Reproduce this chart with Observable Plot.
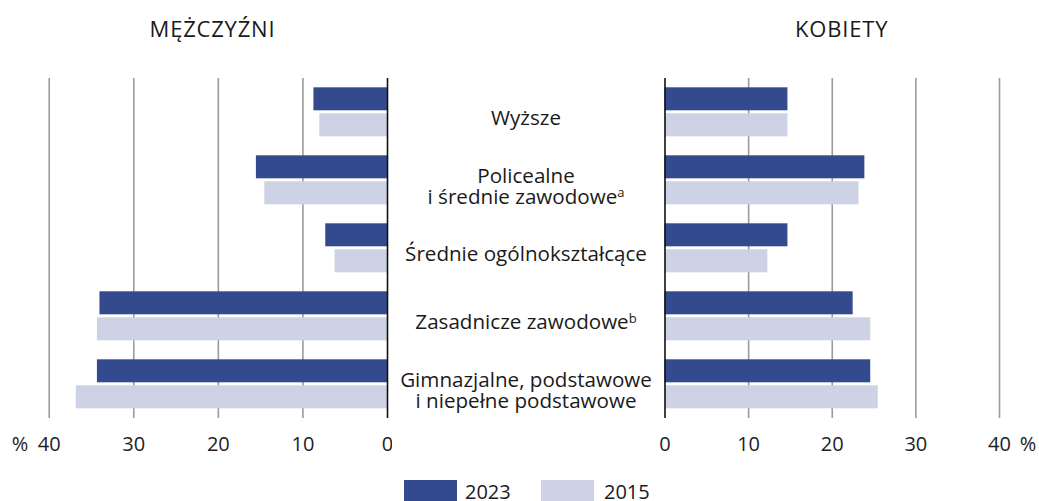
<!DOCTYPE html>
<html><head><meta charset="utf-8">
<script src="https://cdn.jsdelivr.net/npm/d3@7"></script>
<script src="https://cdn.jsdelivr.net/npm/@observablehq/plot@0.6"></script>
<style>
body{margin:0;background:#fff;font-family:"Open Sans",sans-serif;color:#1a1a1a}
#wrap{position:relative;width:1039px;height:501px;overflow:hidden;background:#fff}
#wrap svg{position:absolute;top:0}
.t{position:absolute;font-size:20px;line-height:20px;white-space:nowrap;transform:translateX(-50%)}
.tt{position:absolute;font-size:22px;line-height:22px;letter-spacing:0.8px;white-space:nowrap;transform:translateX(-50%)}
.sw{position:absolute;height:26px;width:53px}
.lt{position:absolute;font-size:20px;line-height:16px}
</style></head><body><div id="wrap"></div>
<script>
const categories = ["Wyższe","Policealne i średnie zawodowe","Średnie ogólnokształcące","Zasadnicze zawodowe","Gimnazjalne, podstawowe i niepełne podstawowe"];
const labels = ["Wyższe","Policealne\ni średnie zawodowe","Średnie ogólnokształcące","Zasadnicze zawodowe","Gimnazjalne, podstawowe\ni niepełne podstawowe"];
const notes = ["","a","","b",""];
const years = ["2023","2015"];
const men2023 = [8.7,15.5,7.3,34.0,34.3];
const men2015 = [8.0,14.5,6.2,34.3,36.8];
const women2023 = [14.7,23.9,14.7,22.5,24.6];
const women2015 = [14.7,23.2,12.3,24.6,25.5];
const tickValues = [0,10,20,30,40];
const gridValues = [10,20,30,40];
const panelTitles = ["MĘŻCZYŹNI","KOBIETY"];
const colors = ["#344a8f","#cdd2e4"];

const rowsOf = (a, b) => categories.flatMap((c, i) => [
  {category: c, year: years[0], value: a[i]},
  {category: c, year: years[1], value: b[i]}
]);
const menRows = rowsOf(men2023, men2015);
const womenRows = rowsOf(women2023, women2015);

const H = 470, TOP = 76.7, BOT = 418.3;
const FONT = '"Open Sans", sans-serif';
const wrap = document.getElementById("wrap");

function panel(rows, {width, marginLeft, marginRight, reverse}) {
  return Plot.plot({
    width, height: H,
    marginTop: TOP, marginBottom: H - BOT, marginLeft, marginRight,
    style: {background: "transparent", fontSize: "20px", fontFamily: FONT, color: "#222"},
    fy: {domain: categories, padding: 0, axis: null},
    y: {domain: years, paddingInner: 0.13, paddingOuter: 0.333, axis: null},
    x: {domain: [0, 40], reverse, axis: null},
    color: {domain: years, range: colors},
    marks: [
      Plot.ruleX(gridValues, {stroke: "#9b9b9b", strokeWidth: 1.6}),
      Plot.barX(rows, {fy: "category", y: "year", x: "value", fill: "year"}),
      Plot.ruleX([0], {stroke: "#111", strokeWidth: 1.6}),
      Plot.axisX(tickValues, {anchor: "bottom", tickSize: 0, tickPadding: 18, label: null, tickFormat: d => String(d), fill: "#222"})
    ]
  });
}

const left = panel(menRows, {width: 392, marginLeft: 48.7, marginRight: 5, reverse: true});
left.style.left = "0px";
wrap.appendChild(left);

const right = panel(womenRows, {width: 380, marginLeft: 5.5, marginRight: 40, reverse: false});
right.style.left = "659px";
wrap.appendChild(right);

const labelRows = categories.map((c, i) => ({category: c, label: labels[i], note: notes[i]}));
const mid = Plot.plot({
  width: 267, height: H,
  marginTop: TOP, marginBottom: H - BOT, marginLeft: 0, marginRight: 0,
  style: {background: "transparent", fontSize: "20.6px", fontFamily: FONT, color: "#1a1a1a"},
  fy: {domain: categories, padding: 0, axis: null},
  marks: [
    Plot.text(labelRows, {fy: "category", text: "label", frameAnchor: "middle", lineHeight: 0.98, dy: 6.5, fill: "#1a1a1a"})
  ]
});
mid.style.left = "392px";
wrap.appendChild(mid);

// superscript notes
mid.querySelectorAll("text").forEach(t => {
  const txt = t.textContent;
  const row = labelRows.find(r => r.label.replace("\n", "") === txt);
  if (row && row.note) {
    const ts = document.createElementNS("http://www.w3.org/2000/svg", "tspan");
    ts.setAttribute("dy", "-0.5em");
    ts.setAttribute("font-size", "13");
    ts.textContent = row.note;
    t.appendChild(ts);
  }
});

// titles
const titlePos = [[212.5, 17.2], [841.7, 17.2]];
panelTitles.forEach((s, i) => {
  const d = document.createElement("div");
  d.className = "tt";
  d.textContent = s;
  d.style.left = titlePos[i][0] + "px";
  d.style.top = titlePos[i][1] + "px";
  wrap.appendChild(d);
});
// percent signs
[[20, 434], [1028, 434]].forEach(p => {
  const d = document.createElement("div");
  d.className = "t";
  d.style.color = "#222";
  d.textContent = "%";
  d.style.left = p[0] + "px";
  d.style.top = p[1] + "px";
  wrap.appendChild(d);
});
// legend
const legPos = [[404, 465], [541, 604]];
years.forEach((y, i) => {
  const s = document.createElement("div");
  s.className = "sw";
  s.style.left = legPos[i][0] + "px";
  s.style.top = "480px";
  s.style.background = colors[i];
  wrap.appendChild(s);
  const l = document.createElement("div");
  l.className = "lt";
  l.textContent = y;
  l.style.left = legPos[i][1] + "px";
  l.style.top = "484px";
  wrap.appendChild(l);
});
</script></body></html>
